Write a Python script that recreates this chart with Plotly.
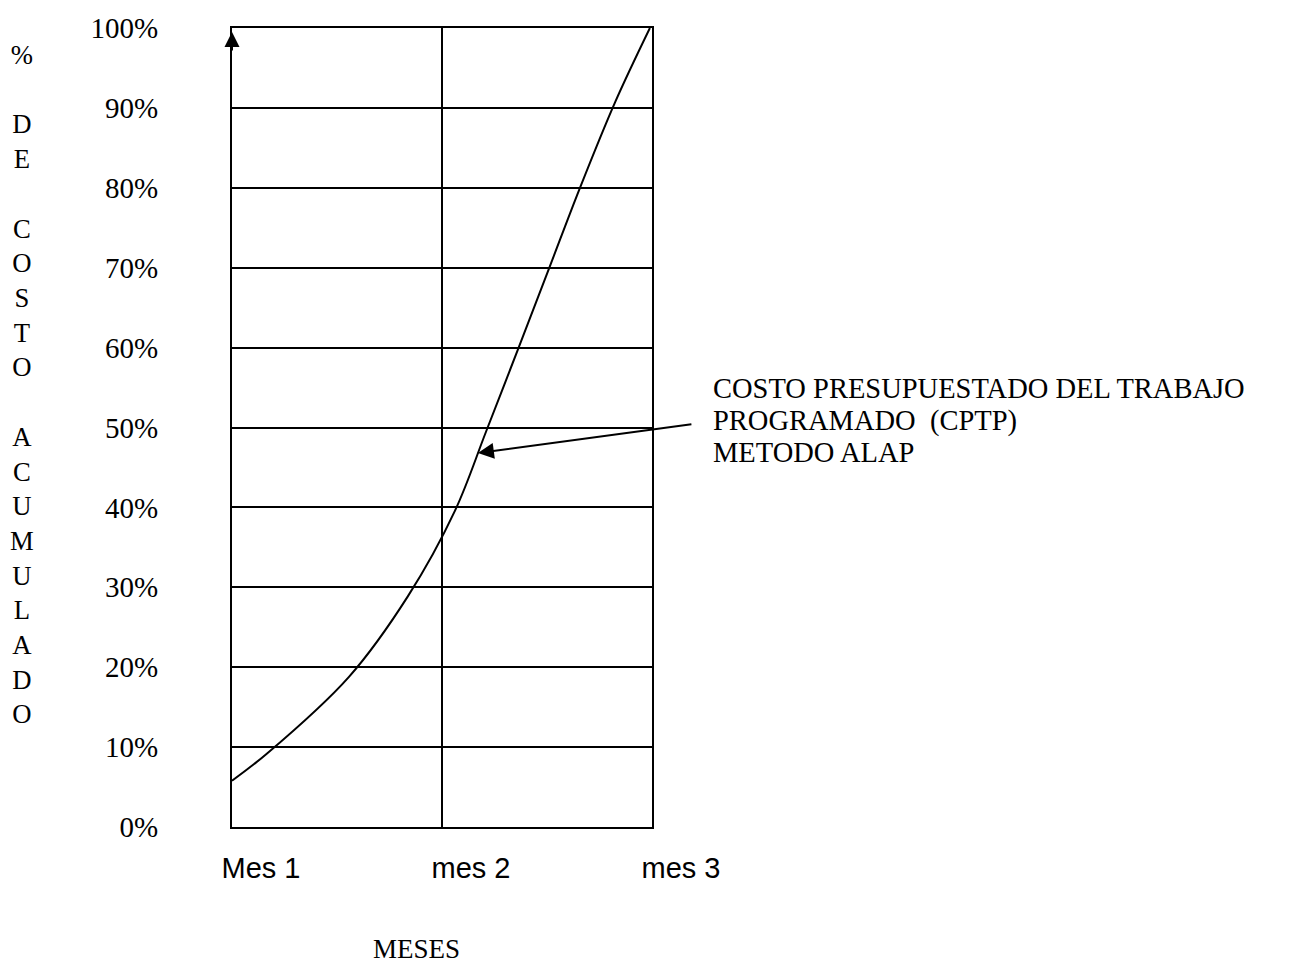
import plotly.graph_objects as go

# Data
month_labels = ["Mes 1", "mes 2", "mes 3"]
month_pos = [0, 1, 2]
x_months = [0.0, 0.167, 0.557, 0.838, 1.062, 1.21, 1.365, 1.514, 1.657, 1.824, 1.99]
cost_pct = [5.8, 9.2, 18.8, 28.9, 39.6, 49.5, 60.0, 70.2, 80.0, 90.7, 100]
y_ticks = [0, 10, 20, 30, 40, 50, 60, 70, 80, 90, 100]
y_tick_text = ["0%", "10%", "20%", "30%", "40%", "50%", "60%", "70%", "80%", "90%", "100%"]
label_lines = ["COSTO PRESUPUESTADO DEL TRABAJO", "PROGRAMADO  (CPTP)", "METODO ALAP"]
arrow_x, arrow_y = 1.171, 46.8

serif = "Liberation Serif, Times New Roman, serif"
sans = "Liberation Sans, Arial, sans-serif"

fig = go.Figure()
fig.add_trace(go.Scatter(
    x=x_months, y=cost_pct, mode="lines",
    line=dict(color="black", width=2, shape="spline", smoothing=1.0),
    hoverinfo="skip", showlegend=False,
))

fig.update_layout(
    width=1311, height=969,
    margin=dict(l=232, r=659, t=22, b=142),
    paper_bgcolor="white", plot_bgcolor="white",
    showlegend=False,
    xaxis=dict(
        range=[0, 2], tickvals=month_pos, ticktext=month_labels,
        showgrid=True, gridcolor="black", gridwidth=2,
        showline=True, linecolor="black", linewidth=2, mirror=True,
        zeroline=False, ticks="",
        tickfont=dict(family=sans, size=29, color="black"),
        ticklabelshift=29, ticklabelstandoff=14,
        fixedrange=True,
    ),
    yaxis=dict(
        range=[0, 100], tickvals=y_ticks, ticktext=y_tick_text,
        showgrid=True, gridcolor="black", gridwidth=2,
        showline=True, linecolor="black", linewidth=2, mirror=True,
        zeroline=False, ticks="",
        tickfont=dict(family=serif, size=29, color="black"),
        ticklabelstandoff=66,
        fixedrange=True,
    ),
)

# Vertical y-axis title, one letter per line
title_letters = "%<br><br>D<br>E<br><br>C<br>O<br>S<br>T<br>O<br><br>A<br>C<br>U<br>M<br>U<br>L<br>A<br>D<br>O"
fig.add_annotation(
    text=title_letters, xref="paper", yref="paper",
    x=(22 - 232) / 420, y=(827 - 381) / 805, xanchor="center", yanchor="middle",
    showarrow=False, align="center",
    font=dict(family=serif, size=26.7, color="black"),
)

# X axis title
fig.add_annotation(
    text="MESES", xref="paper", yref="paper",
    x=(416 - 232) / 420, y=(827 - 950) / 805, xanchor="center", yanchor="middle",
    showarrow=False, font=dict(family=serif, size=27, color="black"),
)

# Series label (three lines) with arrow
for i, line in enumerate(label_lines):
    fig.add_annotation(
        text=line, xref="paper", yref="paper",
        x=(711 - 232) / 420, y=(827 - (385 + 32.5 * i)) / 805,
        xanchor="left", yanchor="middle", showarrow=False,
        font=dict(family=serif, size=28.5, color="black"),
    )
fig.add_annotation(
    x=arrow_x, y=arrow_y, xref="x", yref="y",
    ax=215, ay=-29, axref="pixel", ayref="pixel",
    text="", showarrow=True, arrowhead=2, arrowsize=1.6, arrowwidth=2,
    arrowcolor="black", standoff=0,
)

# Arrowhead at the top of the y axis
fig.add_annotation(
    x=0, y=0.995, xref="paper", yref="paper",
    ax=0, ay=20, text="", showarrow=True, arrowhead=2, arrowsize=1.5,
    arrowwidth=2, arrowcolor="black", standoff=0,
)

fig.write_html("out.html", config={"displayModeBar": False},
               post_script="document.body.style.margin='0px';")
